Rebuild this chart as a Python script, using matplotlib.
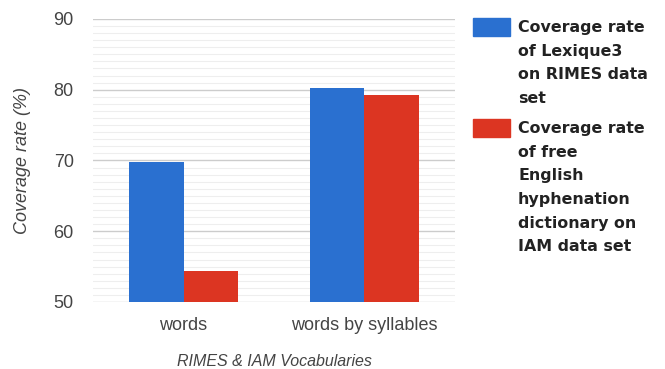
import matplotlib
matplotlib.use('Agg')
import matplotlib.pyplot as plt
from matplotlib.patches import Rectangle
from matplotlib.ticker import MultipleLocator
import numpy as np

categories = ['words', 'words by syllables']
lexique3_rimes = [69.8, 80.3]
hyphen_iam = [54.4, 79.2]
series_labels = ['Coverage rate\nof Lexique3\non RIMES data\nset',
                 'Coverage rate\nof free\nEnglish\nhyphenation\ndictionary on\nIAM data set']
colors = ['#2a70d0', '#dc3522']

plt.rcParams['font.family'] = ['Liberation Sans', 'DejaVu Sans']

fig = plt.figure(figsize=(6.65, 3.69), dpi=100)
ax = fig.add_axes([0.14, 0.1816, 0.544, 0.767])

x = np.arange(len(categories))
w = 0.3
ax.bar(x - w/2, lexique3_rimes, w, color=colors[0], zorder=3)
ax.bar(x + w/2, hyphen_iam, w, color=colors[1], zorder=3)

ax.set_ylim(50, 90)
ax.set_xlim(-0.5, 1.5)
ax.yaxis.set_major_locator(MultipleLocator(10))
ax.yaxis.set_minor_locator(MultipleLocator(1))
ax.grid(which='major', axis='y', color='#cccccc', lw=1, zorder=0)
ax.grid(which='minor', axis='y', color='#eeeeee', lw=0.8, zorder=0)
for s in ax.spines.values():
    s.set_visible(False)
ax.set_xticks(x)
ax.set_xticklabels(categories)
ax.tick_params(axis='both', which='both', length=0, labelsize=13, colors='#444444')
ax.tick_params(axis='y', pad=14)
ax.tick_params(axis='x', pad=11)
ax.set_ylabel('Coverage rate (%)', style='italic', fontsize=13, color='#444444', labelpad=16)
ax.set_xlabel('RIMES & IAM Vocabularies', style='italic', fontsize=11.5, color='#444444', labelpad=14)

# legend drawn by hand so the swatch sits on the first line
W, H = 665, 369
tops = [18, 119]
for top, lab, c in zip(tops, series_labels, colors):
    fig.patches.append(Rectangle((473/W, 1 - (top + 18)/H), 37/W, 18/H,
                                 transform=fig.transFigure, color=c))
    fig.text(518/W, 1 - (top + 2)/H, lab, ha='left', va='top', fontsize=11.4,
             fontweight='bold', color='#222222', linespacing=1.72,
             family='DejaVu Sans')

plt.savefig('out.png', dpi=100)
